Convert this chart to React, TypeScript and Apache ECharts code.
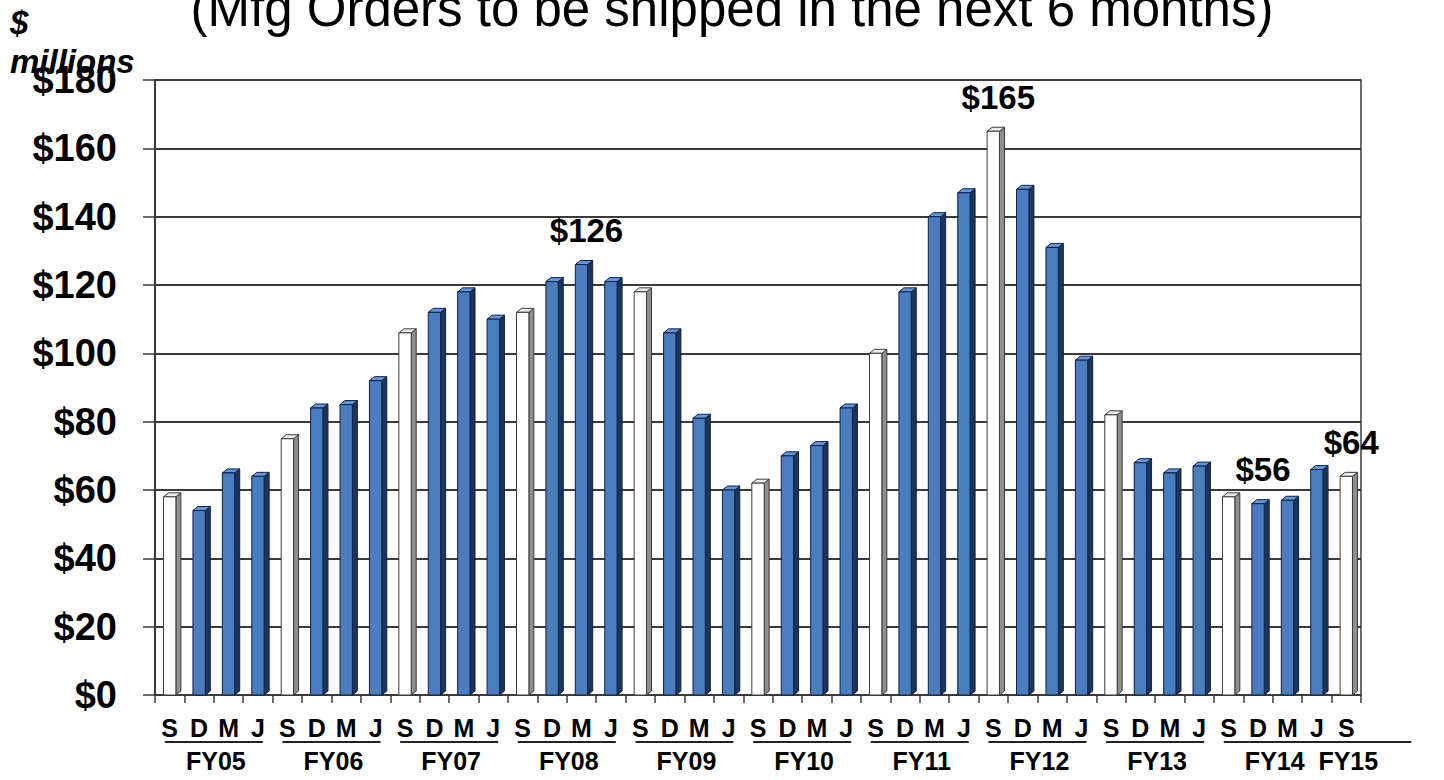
import React, { useEffect, useRef } from "react";
import * as echarts from "echarts";

// ---- data ----
const quarters = [
  "S", "D", "M", "J", "S", "D", "M", "J", "S", "D", "M", "J", "S", "D", "M", "J",
  "S", "D", "M", "J", "S", "D", "M", "J", "S", "D", "M", "J", "S", "D", "M", "J",
  "S", "D", "M", "J", "S", "D", "M", "J", "S",
];
const backlog = [
  58, 54, 65, 64,
  75, 84, 85, 92,
  106, 112, 118, 110,
  112, 121, 126, 121,
  118, 106, 81, 60,
  62, 70, 73, 84,
  100, 118, 140, 147,
  165, 148, 131, 98,
  82, 68, 65, 67,
  58, 56, 57, 66,
  64,
];
const fiscalYears = ["FY05", "FY06", "FY07", "FY08", "FY09", "FY10", "FY11", "FY12", "FY13", "FY14", "FY15"];
const calloutIndex = [14, 28, 37, 40];
const yTicks = [0, 20, 40, 60, 80, 100, 120, 140, 160, 180];

const FONT = '"Liberation Sans", Arial, Helvetica, sans-serif';

export default function App() {
  const ref = useRef<HTMLDivElement>(null);

  useEffect(() => {
    if (!ref.current) return;
    const chart = echarts.init(ref.current, null, { renderer: "svg" });

    // groups of quarters per fiscal year (each "S" starts a new year)
    const groups: number[][] = [];
    quarters.forEach((q, i) => {
      if (q === "S") groups.push([i, i]);
      else groups[groups.length - 1][1] = i;
    });

    const barData = backlog.map((v, i) => [i, v]);
    const groupData = groups.map((g, gi) => [g[0], 0, g[1], gi]);
    const calloutData = calloutIndex.map((i) => [i, backlog[i]]);

    const renderBar = (params: any, api: any) => {
      const i = api.value(0);
      const v = api.value(1);
      const base = api.coord([i, 0]);
      const top = api.coord([i, v]);
      const bw = api.size([1, 0])[0];
      const w = bw * 0.42;
      const dx = 5;
      const dy = 4;
      const x0 = base[0] - w / 2;
      const x1 = base[0] + w / 2;
      const y0 = top[1];
      const yb = base[1];
      const isS = quarters[i] === "S";
      const c = isS
        ? { front: "#ffffff", side: "#8f8f8f", top: "#ececec", stroke: "#3a3a3a" }
        : { front: "#4a7cc0", side: "#1c355c", top: "#6b96d2", stroke: "#0f2140" };
      return {
        type: "group",
        children: [
          {
            type: "polygon",
            shape: { points: [[x1, y0], [x1 + dx, y0 - dy], [x1 + dx, yb - dy], [x1, yb]] },
            style: { fill: c.side, stroke: c.stroke, lineWidth: 1 },
          },
          {
            type: "polygon",
            shape: { points: [[x0, y0], [x0 + dx, y0 - dy], [x1 + dx, y0 - dy], [x1, y0]] },
            style: { fill: c.top, stroke: c.stroke, lineWidth: 1 },
          },
          {
            type: "polygon",
            shape: { points: [[x0, y0], [x1, y0], [x1, yb], [x0, yb]] },
            style: { fill: c.front, stroke: c.stroke, lineWidth: 1 },
          },
        ],
      };
    };

    const renderGroup = (params: any, api: any) => {
      const s = api.value(0);
      const e = api.value(2);
      const gi = api.value(3);
      const ps = api.coord([s, 0]);
      const pe = api.coord([e, 0]);
      const center = (ps[0] + pe[0]) / 2;
      const yAxis = ps[1];
      let lx0 = center - 49;
      let lx1 = center + 49;
      if (s === e) {
        lx0 = center - 30;
        lx1 = center + 65;
      }
      return {
        type: "group",
        children: [
          {
            type: "line",
            shape: { x1: lx0, y1: yAxis + 47, x2: lx1, y2: yAxis + 47 },
            style: { stroke: "#222", lineWidth: 2 },
          },
          {
            type: "text",
            style: {
              text: fiscalYears[gi],
              x: center + 2,
              y: yAxis + 66,
              align: "center",
              verticalAlign: "middle",
              fill: "#000",
              fontFamily: FONT,
              fontWeight: "bold",
              fontSize: 25,
            },
          },
        ],
      };
    };

    const renderCallout = (params: any, api: any) => {
      const i = api.value(0);
      const v = api.value(1);
      const p = api.coord([i, v]);
      return {
        type: "text",
        style: {
          text: "$" + v,
          x: p[0] + 5,
          y: p[1] - 34,
          align: "center",
          verticalAlign: "middle",
          fill: "#000",
          fontFamily: FONT,
          fontWeight: "bold",
          fontSize: 33,
        },
      };
    };

    chart.setOption({
      animation: false,
      backgroundColor: "#ffffff",
      grid: {
        left: 155,
        right: 83,
        top: 80,
        bottom: 85,
        show: true,
        borderColor: "#3a3a3a",
        borderWidth: 1.5,
        backgroundColor: "transparent",
      },
      graphic: [
        {
          type: "text",
          x: 732,
          y: 8,
          style: {
            text: "(Mfg Orders to be shipped in the next 6 months)",
            align: "center",
            verticalAlign: "middle",
            fill: "#000",
            fontFamily: FONT,
            fontSize: 51,
          },
        },
        {
          type: "text",
          x: 10,
          y: 22,
          style: {
            text: "$",
            align: "left",
            verticalAlign: "middle",
            fill: "#000",
            fontFamily: FONT,
            fontWeight: "bold",
            fontStyle: "italic",
            fontSize: 33,
          },
        },
        {
          type: "text",
          x: 10,
          y: 61,
          z: 10,
          style: {
            text: "millions",
            align: "left",
            verticalAlign: "middle",
            fill: "#000",
            fontFamily: FONT,
            fontWeight: "bold",
            fontStyle: "italic",
            fontSize: 33,
          },
        },
      ],
      xAxis: {
        type: "category",
        data: quarters,
        boundaryGap: true,
        axisLine: { show: true, lineStyle: { color: "#3a3a3a", width: 2 } },
        axisTick: { show: true, interval: 0, length: 8, lineStyle: { color: "#3a3a3a", width: 1.5 } },
        axisLabel: {
          interval: 0,
          margin: 20,
          color: "#000",
          fontFamily: FONT,
          fontWeight: "bold",
          fontSize: 25,
        },
        splitLine: { show: false },
      },
      yAxis: {
        type: "value",
        min: yTicks[0],
        max: yTicks[yTicks.length - 1],
        interval: yTicks[1] - yTicks[0],
        axisLine: { show: true, lineStyle: { color: "#3a3a3a", width: 2 } },
        axisTick: { show: true, length: 12, lineStyle: { color: "#3a3a3a", width: 1.5 } },
        axisLabel: {
          margin: 38,
          color: "#000",
          fontFamily: FONT,
          fontWeight: "bold",
          fontSize: 38,
          formatter: (v: number) => "$" + v,
        },
        splitLine: { show: true, lineStyle: { color: "#3a3a3a", width: 2 } },
      },
      series: [
        {
          type: "custom",
          name: "Backlog",
          renderItem: renderBar,
          data: barData,
          encode: { x: 0, y: 1 },
          clip: false,
          silent: true,
          z: 3,
        },
        {
          type: "custom",
          name: "Fiscal years",
          renderItem: renderGroup,
          data: groupData,
          encode: { x: 0, y: 1 },
          clip: false,
          silent: true,
          z: 4,
        },
        {
          type: "custom",
          name: "Callouts",
          renderItem: renderCallout,
          data: calloutData,
          encode: { x: 0, y: 1 },
          clip: false,
          silent: true,
          z: 5,
        },
      ],
    });

    return () => chart.dispose();
  }, []);

  return (
    <div
      ref={ref}
      style={{ position: "absolute", left: 0, top: 0, width: 1444, height: 780, background: "#fff" }}
    />
  );
}
